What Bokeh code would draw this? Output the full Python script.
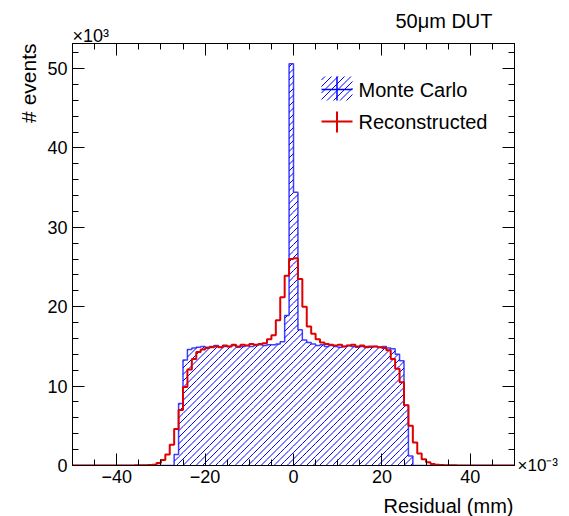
import math
from bokeh.plotting import figure
from bokeh.models import (Range1d, LinearAxis, FixedTicker, Label, ColumnDataSource,
                          CustomJSTickFormatter, Title)
from bokeh.embed import file_html
from bokeh.resources import INLINE

# ---- data (bin width 1e-3 mm, values in thousands of events) ----
bin_edges = list(range(-50, 51))

monte_carlo = (
    [0.0] * 23
    + [1.4, 7.8, 13.3, 14.6, 14.8]
    + [14.9, 15.0, 14.9, 15.0, 15.1, 14.9, 15.0, 15.0, 15.1, 14.9, 15.0, 15.1, 15.0, 15.1, 15.2, 15.1, 15.2, 15.2, 15.3]
    + [15.6, 18.9, 50.6, 34.4, 17.1, 15.8, 15.5]
    + [15.3, 15.1, 15.2, 15.0, 15.1, 15.0, 14.9, 15.0, 15.1, 15.0, 14.9, 15.0, 15.0, 14.9, 15.0, 14.9, 15.0, 14.8]
    + [14.7, 14.0, 13.2, 7.6, 1.2]
    + [0.0] * 23
)

reconstructed = (
    [0.0] * 11
    + [0.01, 0.01, 0.01, 0.02, 0.03, 0.04, 0.06]
    + [0.1, 0.3, 0.7, 1.4, 2.6, 4.6, 7.0, 9.9, 12.1, 13.4, 14.3, 14.6]
    + [14.8, 14.9, 15.0, 14.9, 15.1, 15.0, 15.2, 15.0, 15.2, 15.1, 15.3, 15.2, 15.3]
    + [15.4, 15.9, 16.4, 18.3, 21.2, 23.9, 26.0, 26.1, 23.5, 20.0, 17.5, 16.6, 15.9, 15.5, 15.3]
    + [15.2, 15.1, 15.2, 15.0, 15.1, 15.2, 15.0, 15.1, 14.9, 15.0, 15.0, 14.9, 14.8]
    + [14.5, 13.4, 12.2, 10.5, 7.6, 5.0, 2.9, 1.5, 0.8, 0.4, 0.2, 0.1]
    + [0.06, 0.04, 0.03, 0.02, 0.01, 0.01, 0.01]
    + [0.0] * 10
)

x_ticks = [-40, -20, 0, 20, 40]
y_ticks = [0, 10, 20, 30, 40, 50]
series_names = ["Monte Carlo", "Reconstructed"]

BLUE = "#0000ff"
RED = "#e00000"
FONT = "Liberation Sans"

# ---- layout ----
W, H = 569, 516
L, R, T, B = 72, 55, 43, 51
XMIN, XMAX = -50, 50
YMIN, YMAX = 0, 53.15
fw, fh = W - L - R, H - T - B
SXP = fw / (XMAX - XMIN)   # px per x unit
SYP = fh / (YMAX - YMIN)   # px per y unit
HATCH_SPACING = 6.5        # px, horizontal distance between 45-degree hatch lines


def dx(px):
    return XMIN + (px - L) / SXP


def dy(py):
    return YMIN + (H - B - py) / SYP


def hatch_segments(lefts, rights, bottoms, tops):
    """45-degree '/' hatch lines clipped to each rectangle (computed in screen space)."""
    x0s, y0s, x1s, y1s = [], [], [], []
    for xl, xr, yb, yt in zip(lefts, rights, bottoms, tops):
        if yt <= yb:
            continue
        pl, pr = (xl - XMIN) * SXP, (xr - XMIN) * SXP
        pb, pt = (yb - YMIN) * SYP, (yt - YMIN) * SYP
        kmin = math.floor((pl - pt) / HATCH_SPACING)
        kmax = math.ceil((pr - pb) / HATCH_SPACING)
        for k in range(kmin, kmax + 1):
            c = k * HATCH_SPACING
            a = max(pl, c + pb)
            b = min(pr, c + pt)
            if b - a > 1e-6:
                x0s.append(XMIN + a / SXP)
                y0s.append(YMIN + (a - c) / SYP)
                x1s.append(XMIN + b / SXP)
                y1s.append(YMIN + (b - c) / SYP)
    return dict(x0=x0s, y0=y0s, x1=x1s, y1=y1s)


p = figure(width=W, height=H, x_range=Range1d(XMIN, XMAX), y_range=Range1d(YMIN, YMAX),
           output_backend="svg", toolbar_location=None,
           min_border_left=L, min_border_right=R, min_border_top=T, min_border_bottom=B)
p.grid.visible = False
p.outline_line_color = "black"
p.outline_line_width = 1
p.background_fill_color = "white"
p.border_fill_color = "white"

fmt = CustomJSTickFormatter(code="return tick < 0 ? '\u2212' + Math.abs(tick) : String(tick);")


def style_axis(ax, font_size="18px"):
    ax.axis_line_color = "black"
    ax.axis_line_width = 1
    ax.major_tick_line_color = "black"
    ax.minor_tick_line_color = "black"
    ax.major_tick_in = 12
    ax.major_tick_out = 0
    ax.minor_tick_in = 6
    ax.minor_tick_out = 0
    ax.major_label_text_font = FONT
    ax.major_label_text_font_size = font_size
    ax.major_label_text_color = "black"


xax = p.xaxis[0]
yax = p.yaxis[0]
xax.ticker = FixedTicker(ticks=x_ticks, minor_ticks=list(range(-50, 51, 5)))
style_axis(xax)
xax.formatter = fmt
xax.major_label_standoff = 4
# invisible spacer label: pushes the x title (below) a few pixels down
xax.axis_label = " "
xax.axis_label_text_font_size = "1px"
xax.axis_label_standoff = 5

yax.ticker = FixedTicker(ticks=y_ticks, minor_ticks=list(range(0, 54, 2)))
style_axis(yax)
yax.formatter = fmt
yax.major_label_standoff = 5

top_ax = LinearAxis(ticker=FixedTicker(ticks=x_ticks, minor_ticks=list(range(-50, 51, 5))))
style_axis(top_ax, "0px")
top_ax.major_label_standoff = 0
top_ax.major_label_overrides = {t: "" for t in x_ticks}
p.add_layout(top_ax, "above")

right_ax = LinearAxis(ticker=FixedTicker(ticks=y_ticks, minor_ticks=list(range(0, 54, 2))))
style_axis(right_ax, "17px")
right_ax.major_label_standoff = 3
right_ax.major_label_overrides = {t: ("\u00d710\u207b\u00b3" if t == 0 else "") for t in y_ticks}
p.add_layout(right_ax, "right")

# ---- histograms ----
mc_hatch = hatch_segments(bin_edges[:-1], bin_edges[1:], [0.0] * len(monte_carlo), monte_carlo)
p.segment(x0="x0", y0="y0", x1="x1", y1="y1", source=ColumnDataSource(mc_hatch),
          line_color=BLUE, line_width=1)
p.step(x=bin_edges, y=monte_carlo + [monte_carlo[-1]], mode="after",
       line_color=BLUE, line_width=1.5, line_alpha=0.75)
p.step(x=bin_edges, y=reconstructed + [reconstructed[-1]], mode="after",
       line_color=RED, line_width=2)

# ---- legend (drawn manually, ROOT style) ----
lx0, lx1 = 321, 352
lxc = (lx0 + lx1) / 2
leg_hatch = hatch_segments([dx(lx0)], [dx(lx1)], [dy(100)], [dy(76)])
p.segment(x0="x0", y0="y0", x1="x1", y1="y1", source=ColumnDataSource(leg_hatch),
          line_color=BLUE, line_width=1)
p.segment(x0=[dx(lx0), dx(lxc)], y0=[dy(89), dy(76)], x1=[dx(lx1), dx(lxc)], y1=[dy(89), dy(100)],
          line_color=BLUE, line_width=1.5)
p.segment(x0=[dx(lx0), dx(lxc)], y0=[dy(121), dy(111)], x1=[dx(lx1), dx(lxc)], y1=[dy(121), dy(132)],
          line_color=RED, line_width=2)
for name, ypx in zip(series_names, [89, 121]):
    p.add_layout(Label(x=dx(358), y=dy(ypx), text=name, text_font=FONT, text_font_size="20px",
                       text_baseline="middle", text_align="left", text_color="black"))


# ---- titles / exponents (side panels) ----
def mk_title(text, size, **kw):
    return Title(text=text, text_font=FONT, text_font_size=size, text_font_style="normal",
                 text_color="black", **kw)


p.add_layout(mk_title("Residual (mm)", "20px", align="right", vertical_align="bottom",
                      offset=1, standoff=-3), "below")
p.add_layout(mk_title("# events", "21px", align="right", standoff=9), "left")
p.add_layout(mk_title("\u00d710\u00b3", "18px", align="left", standoff=-5), "above")
p.add_layout(mk_title("50\u03bcm DUT", "20px", align="right", offset=22, standoff=-10), "above")

open("out.html", "w").write(file_html(p, INLINE))
